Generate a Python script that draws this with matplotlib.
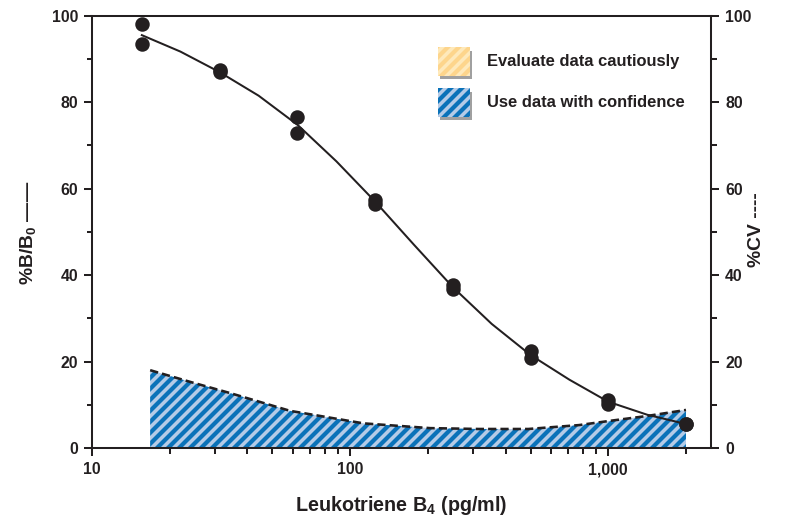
import matplotlib
matplotlib.use("Agg")
import matplotlib.pyplot as plt
from matplotlib.patches import Rectangle
from matplotlib.ticker import FixedLocator, FuncFormatter, MultipleLocator

# standard curve data (pg/ml, %B/B0 duplicates)
conc = [15.6, 31.3, 62.5, 125, 250, 500, 1000, 2000]
rep1 = [98.1, 87.4, 76.6, 57.4, 37.6, 22.4, 11.2, 5.6]
rep2 = [93.5, 87.0, 72.9, 56.5, 36.8, 20.8, 10.2, 5.5]

# fitted curve
fit_x = [15.6, 22.0, 31.1, 44.2, 62.7, 88.5, 125, 176.8, 250, 353.6, 500, 707,
         1000, 1414, 2000]
fit_y = [95.5, 91.7, 87.0, 81.5, 74.7, 66.3, 57.0, 47.0, 37.2, 28.7, 21.5, 15.8,
         10.7, 7.7, 5.55]

# %CV profile
cv_x = [16.8, 24, 34.3, 58.5, 112.7, 204, 315, 490, 770, 1020, 1410, 2000]
cv_y = [18.0, 15.3, 12.7, 8.6, 5.7, 4.6, 4.4, 4.4, 5.3, 6.3, 7.4, 8.8]

legend_labels = ["Evaluate data cautiously", "Use data with confidence"]

DPI = 132
ink = "#231f20"
plt.rcParams["font.family"] = ["Liberation Sans", "DejaVu Sans"]
plt.rcParams["font.weight"] = "bold"
plt.rcParams["axes.labelweight"] = "bold"
plt.rcParams["mathtext.fontset"] = "custom"
plt.rcParams["mathtext.rm"] = "Liberation Sans:bold"
plt.rcParams["mathtext.it"] = "Liberation Sans:bold"
plt.rcParams["mathtext.bf"] = "Liberation Sans:bold"
plt.rcParams["hatch.linewidth"] = 2.3

fig = plt.figure(figsize=(791 / DPI, 519 / DPI), dpi=DPI)
ax = fig.add_axes([92 / 791, 71 / 519, 619 / 791, 432.3 / 519])

# confidence region under the CV curve
ax.fill_between(cv_x, 0, cv_y, facecolor="#b4cbe7", edgecolor="#0a72b9",
                hatch="////", linewidth=0, zorder=1)
ax.plot(cv_x, cv_y, color=ink, lw=1.4, dashes=(3.2, 1.6), zorder=2)

ax.plot(fit_x, fit_y, color=ink, lw=1.1, zorder=3)
ax.plot(conc, rep1, "o", color=ink, ms=6.9, zorder=4)
ax.plot(conc, rep2, "o", color=ink, ms=6.9, zorder=4)

ax.set_xscale("log")
ax.set_xlim(10, 2500)
ax.set_ylim(0, 100)

ax.xaxis.set_major_locator(FixedLocator([10, 100, 1000]))
ax.xaxis.set_major_formatter(FuncFormatter(lambda v, p: "{:,.0f}".format(v)))
ax.xaxis.set_minor_locator(FixedLocator([20, 30, 40, 50, 60, 70, 80, 90,
                                         200, 300, 400, 500, 600, 700, 800, 900, 2000]))
ax.yaxis.set_major_locator(MultipleLocator(20))
ax.yaxis.set_minor_locator(MultipleLocator(10))

ax2 = ax.twinx()
ax2.set_ylim(0, 100)
ax2.yaxis.set_major_locator(MultipleLocator(20))
ax2.yaxis.set_minor_locator(MultipleLocator(10))

for a in (ax, ax2):
    for s in a.spines.values():
        s.set_linewidth(1.1)
        s.set_color(ink)
    a.tick_params(which="major", length=4.4, width=1.1, color=ink,
                  labelsize=8.7, labelcolor=ink, pad=3.3)
    a.tick_params(which="minor", length=3.0, width=1.1, color=ink)

ax.set_xlabel("Leukotriene B$_4$ (pg/ml)", fontsize=10.8, color=ink)
ax.xaxis.set_label_coords(0.5, -0.132)
ax.xaxis.label.set_va("center")
ax.set_ylabel("%B/B$_0$ ——", fontsize=10.5, color=ink)
ax.yaxis.set_label_coords(-0.103, 0.497)
ax.yaxis.label.set_va("center")
ax2.set_ylabel("%CV ----", fontsize=10.5, color=ink, rotation=90)
ax2.yaxis.set_label_coords(1.074, 0.506)
ax2.yaxis.label.set_va("center")

# legend swatches with drop shadows
swatches = [("#fee9bb", "#fdd58c", 0.861), ("#b4cbe7", "#0a72b9", 0.766)]
for (fc, hc, yb), lab in zip(swatches, legend_labels):
    ax.add_patch(Rectangle((0.5625, yb - 0.0075), 0.0517, 0.0657, transform=ax.transAxes,
                           facecolor="#a0a0a0", linewidth=0, zorder=5))
    ax.add_patch(Rectangle((0.559, yb), 0.0517, 0.0657, transform=ax.transAxes,
                           facecolor=fc, edgecolor=hc, hatch="////", linewidth=0, zorder=6))
    ax.text(0.638, yb + 0.0328, lab, transform=ax.transAxes, fontsize=9.0,
            color=ink, va="center", ha="left", zorder=7)

fig.savefig("out.png", dpi=DPI)
